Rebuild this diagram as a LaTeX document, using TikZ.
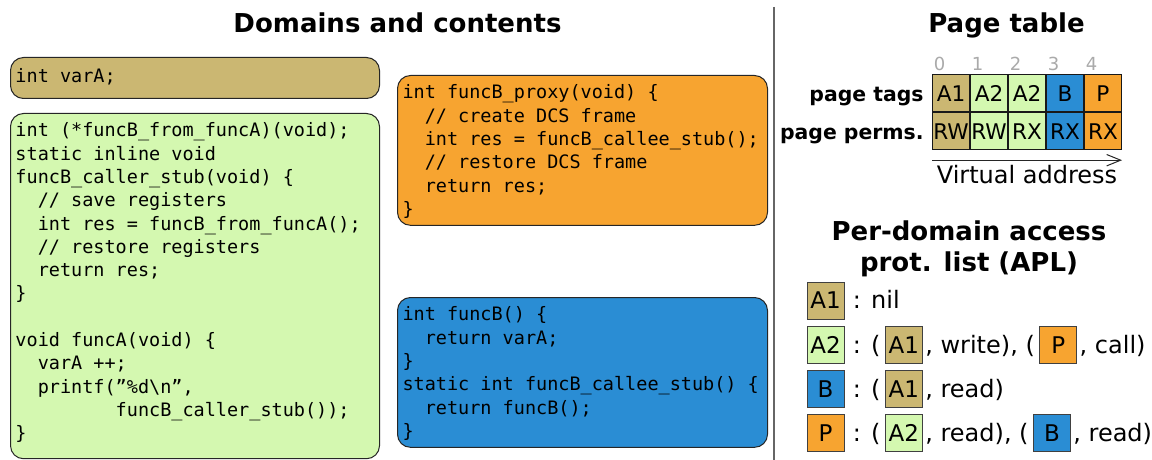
\documentclass[tikz,border=0pt]{standalone}
\usepackage{fontspec}
\setmainfont{DejaVu Sans}
\setmonofont{DejaVu Sans Mono}
\usetikzlibrary{arrows.meta,positioning}
\definecolor{domtan}{HTML}{CBB772}
\definecolor{domgreen}{HTML}{D4F8B0}
\definecolor{domorange}{HTML}{F7A430}
\definecolor{domblue}{HTML}{2A8DD4}
\definecolor{idxgray}{HTML}{AAAAAA}
\newcommand{\codetab}{\phantom{xx}}
% fixed-pitch code text, spaces as wide as a glyph
\DeclareRobustCommand{\codefont}{%
  \fontsize{9.25}{11.65}\selectfont\ttfamily}
\DeclareRobustCommand{\codespaces}{%
  \spaceskip=0.602em\relax\xspaceskip=0.602em\relax}

\begin{document}
\begin{tikzpicture}[
    x=0.5pt, y=-0.5pt,
    codebox/.style={rectangle, rounded corners=6.5pt, draw=black!85, line width=0.5pt,
                    anchor=north west, align=left, inner xsep=2.5pt, inner ysep=3.5pt,
                    font=\codefont, execute at begin node={\codespaces\strut}},
    heading/.style={font=\fontsize{13}{15.5}\selectfont\bfseries, inner sep=0pt},
    cell/.style={rectangle, draw=black!90, line width=0.5pt, minimum width=18.5pt,
                 minimum height=18.5pt, inner sep=0pt, font=\fontsize{10.8}{12}\selectfont},
    idx/.style={anchor=base west, inner sep=0pt, text=idxgray,
                font=\fontsize{9}{10}\selectfont},
    rowlabel/.style={inner sep=0pt, font=\fontsize{10.2}{12}\selectfont\bfseries},
    aplbox/.style={rectangle, draw=black!75, line width=0.5pt, minimum size=18.5pt,
                   inner sep=0pt, font=\fontsize{11.5}{13}\selectfont},
    apltext/.style={inner xsep=0pt, inner ysep=0pt, font=\fontsize{12}{14}\selectfont}
  ]

  % ---- Background ----
  \fill[white] (0,0) rectangle (1152,460);
  \useasboundingbox (0,0) rectangle (1152,460);

  % ============ LEFT: domains and their code ============

  \node[heading, anchor=base] (domtitle) at (397.5,32.7) {Domains and contents};

  % A1: data
  \node[codebox, fill=domtan, text width=179.5pt, minimum height=20.5pt]
    (varA) at (10,57) {int varA;\strut};

  % A2: caller
  \node[codebox, fill=domgreen, text width=179.5pt]
    (funcA) at (10,113)
    {int (*funcB\_from\_funcA)(void);\\
     static inline void\\
     funcB\_caller\_stub(void) \{\\
     \codetab// save registers\\
     \codetab int res = funcB\_from\_funcA();\\
     \codetab// restore registers\\
     \codetab return res;\\
     \}\\
     \mbox{}\\
     void funcA(void) \{\\
     \codetab varA ++;\\
     \codetab printf(”\%d\textbackslash n”,\\
     \phantom{xxxxxxxxx}funcB\_caller\_stub());\\
     \}\rule[-6pt]{0pt}{0pt}};

  % P: proxy
  \node[codebox, fill=domorange, text width=180pt]
    (proxy) at (397,75)
    {int funcB\_proxy(void) \{\\
     \codetab// create DCS frame\\
     \codetab int res = funcB\_callee\_stub();\\
     \codetab// restore DCS frame\\
     \codetab return res;\\
     \}};

  % B: callee
  \node[codebox, fill=domblue, text width=180pt]
    (funcB) at (397,297)
    {int funcB() \{\\
     \codetab return varA;\\
     \}\\
     static int funcB\_callee\_stub() \{\\
     \codetab return funcB();\\
     \}};

  % separator
  \draw[black!60, line width=0.75pt] (774,7) -- (774,460);

  % ============ RIGHT: page table ============

  \node[heading, anchor=base] (pttitle) at (1006.5,33) {Page table};

  % page tags
  \node[cell, fill=domtan] (t0) at (951,93.5) {A1};
  \node[cell, fill=domgreen, right=0pt of t0] (t1) {A2};
  \node[cell, fill=domgreen, right=0pt of t1] (t2) {A2};
  \node[cell, fill=domblue, right=0pt of t2] (t3) {B};
  \node[cell, fill=domorange, right=0pt of t3] (t4) {P};

  % page perms
  \node[cell, fill=domtan, below=0pt of t0] (p0) {RW};
  \node[cell, fill=domgreen, right=0pt of p0] (p1) {RW};
  \node[cell, fill=domgreen, right=0pt of p1] (p2) {RX};
  \node[cell, fill=domblue, right=0pt of p2] (p3) {RX};
  \node[cell, fill=domorange, right=0pt of p3] (p4) {RX};

  % page numbers
  \node[idx] (i0) at ([shift={(1.5,-3.5)}]t0.north west) {0};
  \node[idx] (i1) at ([shift={(1.5,-3.5)}]t1.north west) {1};
  \node[idx] (i2) at ([shift={(1.5,-3.5)}]t2.north west) {2};
  \node[idx] (i3) at ([shift={(1.5,-3.5)}]t3.north west) {3};
  \node[idx] (i4) at ([shift={(1.5,-3.5)}]t4.north west) {4};

  \node[rowlabel, base left=4pt of t0] (tagslbl) {page tags};
  \node[rowlabel, base left=4pt of p0] (permslbl) {page perms.};

  % address axis
  \coordinate[below=4.85pt of p0.south west] (vstart);
  \coordinate[below=4.85pt of p4.south east] (vend);
  \draw[black!85, line width=0.5pt, -{Straight Barb[length=7pt, width=5.7pt]}]
    (vstart) -- (vend)
    node[midway, anchor=base, yshift=-11.5pt, text=black,
         font=\fontsize{12}{14}\selectfont]
    (vaddr) {Virtual address};

  % ============ RIGHT: access protection lists ============

  \node[heading, align=center, anchor=base] (apltitle) at (969,271.7)
    {Per-domain access\\prot. list (APL)};

  % A1
  \node[aplbox, fill=domtan] (aA1) at (825.5,300.5) {A1};
  \node[apltext, base right=4pt of aA1] (aA1t) {: nil};

  % A2
  \node[aplbox, fill=domgreen] (aA2) at (825.5,345) {A2};
  \node[apltext, base right=4pt of aA2] (aA2t1) {: (};
  \node[aplbox, fill=domtan, base right=2pt of aA2t1] (aA2b1) {A1};
  \node[apltext, base right=1pt of aA2b1] (aA2t2) {, write), (};
  \node[aplbox, fill=domorange, base right=2pt of aA2t2] (aA2b2) {P};
  \node[apltext, base right=1pt of aA2b2] (aA2t3) {, call)};

  % B
  \node[aplbox, fill=domblue] (aB) at (825.5,389) {B};
  \node[apltext, base right=4pt of aB] (aBt1) {: (};
  \node[aplbox, fill=domtan, base right=2pt of aBt1] (aBb1) {A1};
  \node[apltext, base right=1pt of aBb1] (aBt2) {, read)};

  % P
  \node[aplbox, fill=domorange] (aP) at (825.5,433.3) {P};
  \node[apltext, base right=4pt of aP] (aPt1) {: (};
  \node[aplbox, fill=domgreen, base right=2pt of aPt1] (aPb1) {A2};
  \node[apltext, base right=1pt of aPb1] (aPt2) {, read), (};
  \node[aplbox, fill=domblue, base right=2pt of aPt2] (aPb2) {B};
  \node[apltext, base right=1pt of aPb2] (aPt3) {, read)};

\end{tikzpicture}
\end{document}
